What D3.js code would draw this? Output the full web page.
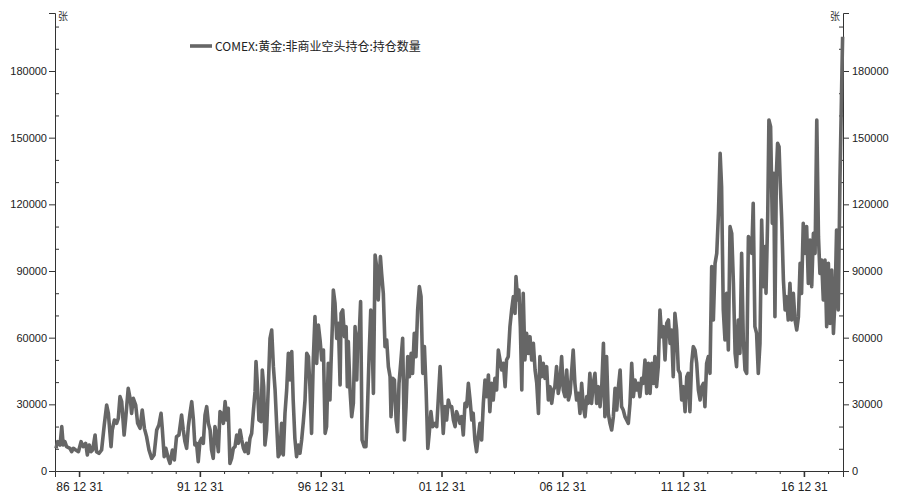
<!DOCTYPE html>
<html><head><meta charset="utf-8">
<script src="https://cdn.jsdelivr.net/npm/d3@7"></script>
<style>body{margin:0;background:#fff} svg{display:block}</style>
</head><body>
<svg id="c" width="900" height="502"></svg>
<script>
const seriesName = "COMEX:黄金:非商业空头持仓:持仓数量";
const unitLabel = "张";
const yTicks = [0, 30000, 60000, 90000, 120000, 150000, 180000];
const xMajorYears = [1986, 1991, 1996, 2001, 2006, 2011, 2016];

const years = [
1986.04,1986.11,1986.21,1986.28,1986.34,1986.41,1986.48,1986.62,1986.69,1986.76,1986.86,1986.97,
1987.08,1987.17,1987.27,1987.34,1987.42,1987.49,1987.56,1987.66,1987.72,1987.82,1987.93,
1988.04,1988.14,1988.21,1988.32,1988.37,1988.46,1988.55,1988.62,1988.69,1988.76,1988.86,1988.92,
1989.03,1989.12,1989.17,1989.24,1989.34,1989.42,1989.52,1989.61,1989.70,1989.79,1989.89,
1990.00,1990.10,1990.21,1990.30,1990.39,1990.44,1990.52,1990.59,1990.69,1990.76,1990.86,1990.94,
1991.03,1991.13,1991.24,1991.31,1991.38,1991.45,1991.52,1991.59,1991.66,1991.73,1991.79,1991.86,1991.93,
1992.00,1992.07,1992.14,1992.21,1992.28,1992.35,1992.42,1992.48,1992.55,1992.62,1992.69,1992.76,1992.83,1992.90,1992.97,
1993.04,1993.11,1993.17,1993.24,1993.31,1993.38,1993.45,1993.52,1993.59,1993.66,1993.73,1993.80,1993.86,1993.93,
1994.00,1994.07,1994.14,1994.21,1994.28,1994.32,1994.39,1994.44,1994.53,1994.58,1994.64,1994.69,1994.76,1994.83,1994.90,1994.97,
1995.04,1995.11,1995.18,1995.24,1995.31,1995.38,1995.45,1995.52,1995.59,1995.66,1995.73,1995.80,1995.86,1995.93,
1996.00,1996.07,1996.14,1996.21,1996.28,1996.35,1996.42,1996.49,1996.55,1996.62,1996.69,1996.76,1996.83,1996.90,1996.97,
1997.04,1997.11,1997.18,1997.24,1997.31,1997.38,1997.42,1997.48,1997.52,1997.59,1997.66,1997.73,1997.80,1997.84,1997.91,1997.98,
1998.05,1998.10,1998.14,1998.21,1998.28,1998.35,1998.42,1998.49,1998.53,1998.60,1998.65,1998.71,1998.80,1998.87,1998.93,
1999.00,1999.07,1999.11,1999.18,1999.25,1999.33,1999.38,1999.47,1999.52,1999.59,1999.66,1999.73,1999.80,1999.87,1999.91,1999.98,
2000.05,2000.12,2000.18,2000.24,2000.32,2000.39,2000.46,2000.53,2000.60,2000.67,2000.74,2000.80,2000.87,2000.94,
2001.01,2001.08,2001.15,2001.22,2001.29,2001.36,2001.43,2001.49,2001.56,2001.63,2001.73,2001.80,2001.87,2001.94,
2002.01,2002.07,2002.14,2002.21,2002.28,2002.35,2002.42,2002.49,2002.56,2002.62,2002.69,2002.76,2002.83,2002.90,2002.97,
2003.04,2003.11,2003.18,2003.25,2003.31,2003.38,2003.45,2003.52,2003.59,2003.66,2003.73,2003.80,2003.87,2003.94,
2004.00,2004.07,2004.14,2004.21,2004.28,2004.35,2004.42,2004.49,2004.56,2004.63,2004.69,2004.76,2004.83,2004.90,2004.97,
2005.04,2005.08,2005.15,2005.20,2005.26,2005.32,2005.38,2005.45,2005.52,2005.59,2005.66,2005.73,2005.80,2005.87,2005.94,
2006.01,2006.07,2006.14,2006.21,2006.28,2006.35,2006.42,2006.49,2006.56,2006.63,2006.69,2006.76,2006.83,2006.90,2006.97,
2007.04,2007.11,2007.18,2007.25,2007.32,2007.39,2007.45,2007.52,2007.59,2007.66,2007.73,2007.80,2007.87,2007.94,
2008.01,2008.07,2008.14,2008.21,2008.28,2008.35,2008.42,2008.49,2008.56,2008.63,2008.70,2008.76,2008.83,2008.90,2008.97,
2009.04,2009.11,2009.18,2009.25,2009.32,2009.39,2009.45,2009.52,2009.59,2009.66,2009.73,2009.80,2009.87,2009.94,
2010.01,2010.08,2010.14,2010.21,2010.28,2010.35,2010.42,2010.49,2010.56,2010.63,2010.70,2010.77,2010.83,2010.90,2010.97,
2011.04,2011.11,2011.18,2011.25,2011.32,2011.39,2011.46,2011.52,2011.59,2011.66,2011.73,2011.80,2011.87,2011.94,
2012.01,2012.08,2012.15,2012.21,2012.28,2012.35,2012.42,2012.49,2012.56,2012.63,2012.70,2012.77,2012.84,2012.90,2012.97,
2013.04,2013.11,2013.18,2013.25,2013.32,2013.39,2013.46,2013.53,2013.59,2013.66,2013.73,2013.80,2013.87,2013.94,
2014.01,2014.08,2014.15,2014.21,2014.28,2014.35,2014.42,2014.49,2014.56,2014.63,2014.70,2014.77,2014.84,2014.90,2014.97,
2015.04,2015.11,2015.18,2015.25,2015.32,2015.39,2015.43,2015.50,2015.55,2015.62,2015.69,2015.75,2015.80,2015.86,2015.91,2015.97,
2016.02,2016.08,2016.15,2016.22,2016.28,2016.35,2016.42,2016.49,2016.56,2016.63,2016.70,2016.77,2016.84,2016.90,2016.97,
2017.04,2017.11,2017.18,2017.25,2017.32,2017.39,2017.46,2017.53,2017.60,2017.66,2017.73,2017.80,2017.87,2017.94,
2018.01,2018.08,2018.15,2018.22,2018.29,2018.35,2018.42,2018.49,2018.56,2018.60
];

const values = [
10200,13200,11700,19950,11700,13200,10950,10200,8700,10200,9450,8700,
13200,10950,12450,7200,11700,8700,9450,16200,8700,7950,9450,
20700,29700,25950,10950,18450,22950,21450,23700,33450,31200,16200,22950,
37200,31950,25950,32700,29700,21450,19200,27450,19200,15450,9450,
5700,7200,18450,20700,25950,19200,6450,10200,5700,3450,9450,4950,
15450,16200,25200,18450,13200,10200,19950,25950,31200,22950,11700,12450,4200,
13200,14700,12450,25200,28950,21450,18450,9450,5700,19950,16200,8700,26700,25950,21450,
31200,22950,28200,3450,5700,10200,10950,16200,12450,18450,13950,10200,8700,12450,
7950,14700,16950,26700,35700,49200,36450,22950,22200,45450,37950,11700,18450,37950,59700,63450,
46950,36450,19950,6450,7950,21450,7200,25950,36450,52950,40950,53700,31950,14700,
6450,11700,7950,13950,22200,31950,52950,51450,37950,16950,49950,69450,48450,65700,58950,
49950,54450,16950,19950,48450,31950,46950,65700,81450,75450,59700,66450,38700,70950,72450,60450,
64950,37950,58200,36450,24450,30450,64950,40950,58950,63450,76200,13950,10950,10950,26700,
51450,72450,66450,34950,97200,90450,76950,96450,88950,79950,55950,58950,46950,42450,24450,41700,
40950,22950,17700,39450,49950,59700,13950,28950,51450,42450,52950,43950,61950,51450,
72450,82950,78450,43950,55950,36450,10200,16950,26700,19950,21450,19950,33450,46950,
30450,16950,28950,22950,31950,28950,28950,22950,19950,26700,24450,21450,24450,16200,30450,
28950,39450,31950,22950,25950,13950,8700,15450,21450,13950,30450,40950,33450,43200,
26700,39450,31950,41700,36450,54450,49950,45450,48450,37950,49950,51450,64950,72450,78450,
70950,87450,76950,81450,64950,36450,79950,49950,61950,52950,60450,49950,57450,45450,39450,
25950,51450,42450,48450,41700,46950,31950,37950,30450,36450,37950,46950,34950,39450,51450,
36450,33450,45450,31950,34950,45450,54450,39450,31950,34950,25950,39450,28950,24450,
33450,30450,43950,30450,39450,43950,30450,37950,28950,37950,57450,24450,51450,25950,21450,
18450,24450,37200,27450,37950,45450,28950,27450,24450,22950,21450,30450,48450,33450,
40950,36450,39450,33450,41700,39450,49950,34950,48450,34950,48450,39450,51450,37950,46950,
72450,60450,64950,49950,66450,67950,57450,63450,42450,70950,63450,45450,43950,31950,
37950,26700,42450,43950,26700,48450,55950,54450,48450,36450,31950,37950,39450,28950,48450,
51450,43950,91950,67950,93450,97950,115950,142950,127950,72450,58950,79950,54450,109950,
106950,84450,52950,46950,67950,52950,97950,58950,45450,43950,105450,103950,97950,120450,64950,
61950,43950,57450,112950,82950,100950,79950,114450,157950,154950,111450,133950,69450,133950,147450,145950,
129450,112950,85950,72450,78450,67950,84450,67950,79950,67950,63450,69450,93450,79950,111450,
97950,109950,84450,103950,82950,106950,97950,157950,105450,88950,94950,76950,94950,64950,
93450,66450,90450,61950,78450,108450,72450,130950,172950,195450
];

const toDate = yr => {
  const Y = Math.floor(yr);
  const s = new Date(Y, 0, 1), e = new Date(Y + 1, 0, 1);
  return new Date(+s + (yr - Y) * (e - s));
};

const n = Math.min(years.length, values.length);
const data = d3.range(n).map(i => ({ date: toDate(years[i]), value: values[i] }));

const svg = d3.select("#c");
const L = 55, R = 843, T = 13, B = 471;
const x = d3.scaleTime().domain([new Date(1986, 0, 1), toDate(2018.616)]).range([L, R]);
const y = d3.scaleLinear().domain([0, 206100]).range([B, T]);

const axisColor = "#333";
const fontLatin = "'Liberation Sans', Arial, sans-serif";

function styleAxis(g) {
  g.selectAll("path.domain").attr("stroke", axisColor);
  g.selectAll(".tick line").attr("stroke", axisColor);
  g.selectAll(".tick text").attr("fill", "#222").attr("font-family", fontLatin);
}

const minorY = d3.range(10000, 206000, 10000).filter(v => v % 30000 !== 0);

const gL = svg.append("g").attr("transform", `translate(${L},0)`)
  .call(d3.axisLeft(y).tickValues(yTicks).tickSize(6).tickPadding(2).tickFormat(d3.format("d")));
gL.attr("font-size", 11);
styleAxis(gL);
svg.append("g").attr("transform", `translate(${L},0)`)
  .call(d3.axisLeft(y).tickValues(minorY).tickSize(-4).tickFormat(""))
  .call(g => { g.select("path.domain").remove(); g.selectAll(".tick line").attr("stroke", axisColor); });

const gR = svg.append("g").attr("transform", `translate(${R},0)`)
  .call(d3.axisRight(y).tickValues(yTicks).tickSize(6).tickPadding(3).tickFormat(d3.format("d")));
gR.attr("font-size", 11);
styleAxis(gR);
svg.append("g").attr("transform", `translate(${R},0)`)
  .call(d3.axisRight(y).tickValues(minorY).tickSize(-4).tickFormat(""))
  .call(g => { g.select("path.domain").remove(); g.selectAll(".tick line").attr("stroke", axisColor); });

const majorDates = xMajorYears.map(Y => new Date(Y, 11, 31));
const minorDates = d3.range(1986, 2018).filter(Y => !xMajorYears.includes(Y)).map(Y => new Date(Y, 11, 31));
const gB = svg.append("g").attr("transform", `translate(0,${B})`)
  .call(d3.axisBottom(x).tickValues(majorDates).tickSize(6).tickPadding(5).tickFormat(d3.timeFormat("%y %m %d")));
gB.attr("font-size", 12);
styleAxis(gB);
gB.selectAll(".tick line").attr("stroke-width", 1.6);
svg.append("g").attr("transform", `translate(0,${B})`)
  .call(d3.axisBottom(x).tickValues(minorDates).tickSize(3).tickFormat(""))
  .call(g => { g.select("path.domain").remove(); g.selectAll(".tick line").attr("stroke", axisColor); });

svg.append("text").attr("x", L + 3).attr("y", T + 7).attr("font-size", 10)
  .attr("font-family", "'Noto Sans CJK SC', sans-serif").attr("fill", "#333").text(unitLabel);
svg.append("text").attr("x", R - 3).attr("y", T + 7).attr("font-size", 10).attr("text-anchor", "end")
  .attr("font-family", "'Noto Sans CJK SC', sans-serif").attr("fill", "#333").text(unitLabel);

const line = d3.line().x(d => x(d.date)).y(d => y(d.value));
svg.append("path").datum(data)
  .attr("fill", "none").attr("stroke", "#666").attr("stroke-width", 3.6)
  .attr("stroke-linejoin", "round").attr("d", line);

svg.append("line").attr("x1", 190).attr("x2", 212).attr("y1", 46).attr("y2", 46)
  .attr("stroke", "#666").attr("stroke-width", 3.6);
svg.append("text").attr("x", 215).attr("y", 50.5).attr("font-size", 12)
  .attr("font-family", "'Noto Sans CJK SC', sans-serif").attr("fill", "#222").text(seriesName);
</script>
</body></html>
